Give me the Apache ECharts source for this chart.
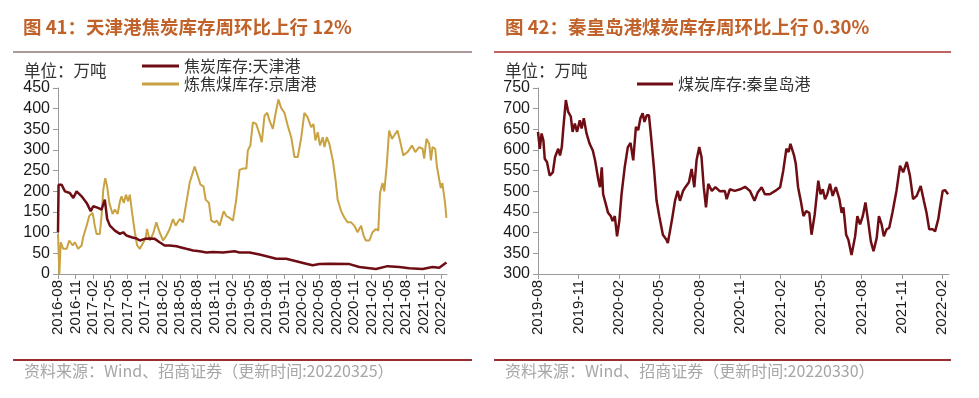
<!DOCTYPE html>
<html><head><meta charset="utf-8">
<script src="https://cdn.jsdelivr.net/npm/echarts@6/dist/echarts.min.js"></script>
<style>html,body{margin:0;padding:0;background:#fff}#c{width:979px;height:398px}</style>
</head><body><div id="c"></div>
<script>
// ---------- Data ----------
const leftTickLabels = ['2016-08','2016-11','2017-02','2017-05','2017-08','2017-11','2018-02','2018-05','2018-08','2018-11','2019-02','2019-05','2019-08','2019-11','2020-02','2020-05','2020-08','2020-11','2021-02','2021-05','2021-08','2021-11','2022-02'];
const rightTickLabels = ['2019-08','2019-11','2020-02','2020-05','2020-08','2020-11','2021-02','2021-05','2021-08','2021-11','2022-02'];

// 焦炭库存:天津港
const tjDates = ['2016-08-01','2016-08-04','2016-08-20','2016-09-07','2016-10-02','2016-10-20','2016-11-07','2016-12-03','2016-12-29','2017-01-20','2017-02-03','2017-02-28','2017-03-16','2017-04-03','2017-04-15','2017-04-29','2017-05-25','2017-06-21','2017-07-08','2017-07-25','2017-08-21','2017-09-17','2017-10-04','2017-10-30','2017-11-25','2017-12-21','2018-01-16','2018-02-12','2018-03-08','2018-04-13','2018-05-17','2018-06-04','2018-07-09','2018-08-13','2018-09-18','2018-10-22','2018-12-13','2019-02-13','2019-03-09','2019-05-01','2019-06-22','2019-08-14','2019-09-18','2019-11-10','2020-01-02','2020-02-23','2020-03-27','2020-05-02','2020-06-23','2020-10-07','2020-11-28','2021-02-24','2021-04-24','2021-06-24','2021-08-16','2021-10-25','2021-12-16','2022-01-21','2022-02-28'];
const tjValues = [101,216,216,200,196,184,200,188,172,152,164,160,156,180,133,117,105,97,101,93,89,86,81,85,86,85,77,69,69,67,63,61,57,55,52,53,52,55,52,52,47,41,37,37,31,25,21,24,25,24,17,12,19,17,14,12,17,15,28];

// 炼焦煤库存:京唐港
const jtDates = ['2016-08-01','2016-08-08','2016-08-15','2016-08-28','2016-09-16','2016-09-29','2016-10-17','2016-10-28','2016-11-15','2016-12-03','2016-12-11','2016-12-29','2017-01-12','2017-01-30','2017-02-11','2017-02-20','2017-03-07','2017-03-16','2017-03-25','2017-04-05','2017-04-15','2017-04-26','2017-05-13','2017-05-25','2017-06-09','2017-06-21','2017-06-29','2017-07-11','2017-07-22','2017-08-03','2017-08-12','2017-08-24','2017-09-08','2017-09-20','2017-10-04','2017-10-18','2017-11-03','2017-11-11','2017-11-25','2017-12-12','2017-12-29','2018-01-16','2018-02-04','2018-02-21','2018-03-08','2018-03-25','2018-04-09','2018-04-30','2018-05-17','2018-06-04','2018-06-21','2018-07-17','2018-08-04','2018-08-17','2018-09-03','2018-09-14','2018-10-01','2018-10-13','2018-10-30','2018-11-12','2018-11-26','2018-12-17','2019-01-01','2019-01-18','2019-02-05','2019-02-22','2019-03-09','2019-03-26','2019-04-14','2019-04-22','2019-05-05','2019-05-18','2019-06-05','2019-06-22','2019-07-04','2019-07-18','2019-08-02','2019-08-14','2019-09-01','2019-09-18','2019-09-30','2019-10-14','2019-11-01','2019-11-18','2019-12-06','2019-12-23','2020-01-10','2020-01-28','2020-02-14','2020-03-01','2020-03-19','2020-04-01','2020-04-11','2020-04-23','2020-05-05','2020-05-19','2020-05-28','2020-06-10','2020-06-23','2020-07-11','2020-07-25','2020-08-06','2020-08-24','2020-09-11','2020-09-28','2020-10-15','2020-11-02','2020-11-19','2020-12-07','2020-12-20','2021-01-02','2021-01-20','2021-02-06','2021-02-24','2021-03-06','2021-03-15','2021-03-28','2021-04-07','2021-04-19','2021-05-02','2021-05-17','2021-05-28','2021-06-15','2021-06-28','2021-07-15','2021-08-07','2021-08-30','2021-09-17','2021-10-07','2021-10-25','2021-11-03','2021-11-15','2021-11-29','2021-12-08','2021-12-16','2021-12-30','2022-01-09','2022-01-21','2022-01-29','2022-02-07','2022-02-21','2022-02-28'];
const jtValues = [97,0,77,61,61,81,69,77,61,69,89,117,140,148,117,97,97,140,204,232,212,172,145,156,145,176,188,172,192,176,192,148,101,69,61,73,85,109,81,97,125,101,81,93,109,133,117,133,125,172,220,260,236,216,212,180,172,129,125,129,117,152,140,136,129,180,252,255,255,299,311,367,363,339,319,383,390,371,351,395,422,402,390,359,331,283,283,331,390,379,355,363,323,343,311,331,307,331,315,275,228,180,152,136,125,125,117,101,117,93,81,81,101,109,105,196,220,200,260,347,327,335,347,323,287,295,311,295,307,303,279,327,315,275,307,303,260,228,208,220,172,136];

// 煤炭库存:秦皇岛港
const qhdDates = ['2019-08-01','2019-08-05','2019-08-09','2019-08-13','2019-08-16','2019-08-21','2019-08-27','2019-09-04','2019-09-09','2019-09-16','2019-09-20','2019-09-24','2019-09-27','2019-10-03','2019-10-08','2019-10-14','2019-10-18','2019-10-23','2019-10-28','2019-11-04','2019-11-08','2019-11-13','2019-11-19','2019-11-26','2019-12-03','2019-12-08','2019-12-15','2019-12-19','2019-12-23','2019-12-26','2020-01-02','2020-01-07','2020-01-13','2020-01-17','2020-01-22','2020-01-27','2020-02-02','2020-02-07','2020-02-14','2020-02-21','2020-02-27','2020-03-03','2020-03-09','2020-03-14','2020-03-19','2020-03-24','2020-03-28','2020-04-03','2020-04-08','2020-04-12','2020-04-19','2020-04-25','2020-05-01','2020-05-09','2020-05-17','2020-05-20','2020-05-25','2020-05-30','2020-06-06','2020-06-12','2020-06-17','2020-06-24','2020-06-29','2020-07-07','2020-07-13','2020-07-19','2020-07-24','2020-07-30','2020-08-05','2020-08-10','2020-08-15','2020-08-20','2020-08-28','2020-09-06','2020-09-16','2020-09-27','2020-10-01','2020-10-08','2020-10-19','2020-11-01','2020-11-12','2020-11-23','2020-12-03','2020-12-10','2020-12-19','2020-12-26','2021-01-07','2021-01-19','2021-01-30','2021-02-07','2021-02-14','2021-02-19','2021-02-23','2021-03-01','2021-03-05','2021-03-10','2021-03-16','2021-03-22','2021-03-28','2021-04-05','2021-04-10','2021-04-17','2021-04-25','2021-04-30','2021-05-05','2021-05-10','2021-05-15','2021-05-21','2021-05-27','2021-06-04','2021-06-12','2021-06-17','2021-06-21','2021-06-27','2021-07-02','2021-07-09','2021-07-17','2021-07-22','2021-07-28','2021-08-04','2021-08-10','2021-08-16','2021-08-22','2021-08-28','2021-09-05','2021-09-10','2021-09-16','2021-09-21','2021-09-27','2021-10-03','2021-10-10','2021-10-19','2021-10-27','2021-11-04','2021-11-12','2021-11-19','2021-11-26','2021-12-04','2021-12-13','2021-12-20','2021-12-26','2022-01-02','2022-01-10','2022-01-15','2022-01-22','2022-01-26','2022-02-02','2022-02-07','2022-02-14'];
const qhdValues = [644,603,640,623,579,571,538,546,583,603,587,607,648,721,693,681,644,664,644,672,652,677,640,615,599,575,530,510,558,493,469,448,440,428,440,391,428,493,558,607,617,575,656,648,677,689,668,684,684,640,558,477,440,395,383,375,405,436,477,501,477,501,510,522,554,510,575,607,583,510,461,518,501,510,500,501,481,505,501,505,511,501,477,497,510,493,493,501,510,550,603,595,615,587,566,510,477,440,452,448,395,444,526,493,505,481,493,518,489,510,481,448,461,395,383,346,391,440,420,440,473,428,379,355,387,440,420,391,408,412,448,501,562,546,571,538,481,489,513,477,448,408,408,403,432,461,501,503,493];

// ---------- helpers ----------
function monthsFrom(base, s) {
  const p = s.split('-').map(Number), b = base.split('-').map(Number);
  return (p[0] - b[0]) * 12 + (p[1] - b[1]) + ((p[2] || 1) - 1) / 30;
}
const leftBase = leftTickLabels[0], rightBase = rightTickLabels[0];
const leftTickPos = leftTickLabels.map(s => monthsFrom(leftBase, s));
const rightTickPos = rightTickLabels.map(s => monthsFrom(rightBase, s));
const zip = (base, d, v) => d.map((s, i) => [monthsFrom(base, s), v[i]]);
function labelFor(list, pos) {
  return function (val) {
    for (let i = 0; i < pos.length; i++) if (Math.abs(pos[i] - val) < 1e-6) return list[i];
    return '';
  };
}

const RED = '#6E0E14', GOLD = '#C9A241';
const axisGray = '#9a9a9a';
const numFont = '"Liberation Sans", Arial, sans-serif';
const cjkFont = '"Noto Sans CJK SC", sans-serif';

function xAxisCfg(grid, max, pos, labels) {
  return {
    type: 'value', gridIndex: grid, min: 0, max: max,
    axisLine: { show: true, onZero: false, lineStyle: { color: axisGray, width: 1 } },
    axisTick: { show: true, customValues: pos, length: 5, lineStyle: { color: axisGray } },
    axisLabel: { customValues: pos, rotate: 90, formatter: labelFor(labels, pos), fontSize: 15,
      fontFamily: numFont, color: '#1a1a1a', margin: 6 },
    splitLine: { show: false }
  };
}
function yAxisCfg(grid, min, max) {
  return {
    type: 'value', gridIndex: grid, min: min, max: max, interval: 50,
    axisLine: { show: true, lineStyle: { color: axisGray } },
    axisTick: { show: true, length: 5, lineStyle: { color: axisGray } },
    axisLabel: { fontSize: 16, fontFamily: numFont, color: '#1a1a1a', margin: 8 },
    splitLine: { show: false }
  };
}

const chart = echarts.init(document.getElementById('c'), null, { renderer: 'canvas' });
chart.setOption({
  animation: false,
  backgroundColor: '#fff',
  grid: [
    { left: 58, top: 88, right: 532, bottom: 124 },
    { left: 538, top: 88, right: 30, bottom: 124 }
  ],
  xAxis: [
    xAxisCfg(0, 67, leftTickPos, leftTickLabels),
    xAxisCfg(1, 30.5, rightTickPos, rightTickLabels)
  ],
  yAxis: [ yAxisCfg(0, 0, 450), yAxisCfg(1, 300, 750) ],
  legend: [
    { orient: 'vertical', left: 137, top: 53, itemWidth: 37, itemHeight: 3, itemGap: 2, icon: 'rect',
      textStyle: { fontSize: 16, fontFamily: cjkFont, color: '#333' },
      data: ['焦炭库存:天津港', '炼焦煤库存:京唐港'] },
    { orient: 'horizontal', left: 632, top: 71, itemWidth: 36, itemHeight: 3, icon: 'rect',
      textStyle: { fontSize: 16, fontFamily: cjkFont, color: '#333' },
      data: ['煤炭库存:秦皇岛港'] }
  ],
  series: [
    { name: '炼焦煤库存:京唐港', type: 'line', xAxisIndex: 0, yAxisIndex: 0, showSymbol: false,
      data: zip(leftBase, jtDates, jtValues), itemStyle: { color: GOLD }, lineStyle: { color: GOLD, width: 2 }, z: 2 },
    { name: '焦炭库存:天津港', type: 'line', xAxisIndex: 0, yAxisIndex: 0, showSymbol: false,
      data: zip(leftBase, tjDates, tjValues), itemStyle: { color: RED }, lineStyle: { color: RED, width: 2.5 }, z: 3 },
    { name: '煤炭库存:秦皇岛港', type: 'line', xAxisIndex: 1, yAxisIndex: 1, showSymbol: false,
      data: zip(rightBase, qhdDates, qhdValues), itemStyle: { color: RED }, lineStyle: { color: RED, width: 2.5 } }
  ],
  graphic: [
    { type: 'text', left: 23, top: 18, style: { text: '图 41：天津港焦炭库存周环比上行 12%', fill: '#C0622A', font: 'bold 18.5px "Noto Sans CJK SC", sans-serif' } },
    { type: 'text', left: 505, top: 18, style: { text: '图 42：秦皇岛港煤炭库存周环比上行 0.30%', fill: '#C0622A', font: 'bold 18.5px "Noto Sans CJK SC", sans-serif' } },
    { type: 'line', shape: { x1: 13, y1: 52, x2: 472, y2: 52 }, style: { stroke: '#8E7A78', lineWidth: 1.5 } },
    { type: 'line', shape: { x1: 494, y1: 52, x2: 951, y2: 52 }, style: { stroke: '#A8302F', lineWidth: 1.5 } },
    { type: 'line', shape: { x1: 13, y1: 360, x2: 472, y2: 360 }, style: { stroke: '#9B2D2D', lineWidth: 2 } },
    { type: 'line', shape: { x1: 494, y1: 360, x2: 951, y2: 360 }, style: { stroke: '#9B2D2D', lineWidth: 2 } },
    { type: 'text', left: 24, top: 62, style: { text: '单位：万吨', fill: '#333', font: '16.5px "Noto Sans CJK SC", sans-serif' } },
    { type: 'text', left: 505, top: 62, style: { text: '单位：万吨', fill: '#333', font: '16.5px "Noto Sans CJK SC", sans-serif' } },
    { type: 'text', left: 24, top: 363, style: { text: '资料来源：Wind、招商证券（更新时间:20220325）', fill: '#A6A6A6', font: '16px "Noto Sans CJK SC", sans-serif' } },
    { type: 'text', left: 505, top: 363, style: { text: '资料来源：Wind、招商证券（更新时间:20220330）', fill: '#A6A6A6', font: '16px "Noto Sans CJK SC", sans-serif' } }
  ]
});
</script></body></html>
